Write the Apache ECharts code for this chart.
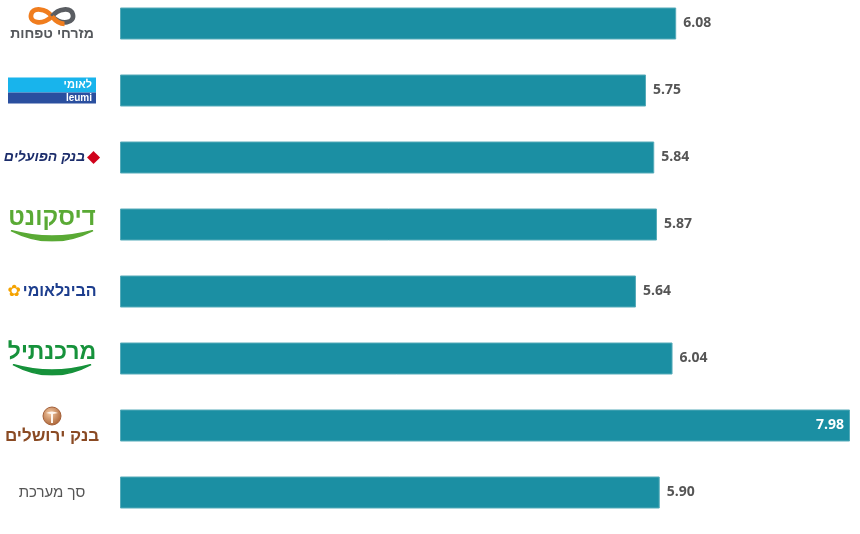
<!DOCTYPE html>
<html>
<head>
<meta charset="utf-8">
<script src="https://cdn.jsdelivr.net/npm/echarts@6/dist/echarts.min.js"></script>
<style>html,body{margin:0;padding:0;background:#fff;overflow:hidden}#c{position:relative;top:-10px;width:860px;height:544px}</style>
</head>
<body>
<div id="c"></div>
<script>
const categories = ['mizrahi', 'leumi', 'hapoalim', 'discount', 'beinleumi', 'mercantile', 'jerusalem', 'total'];
const categoryNames = ['מזרחי טפחות', 'לאומי', 'בנק הפועלים', 'דיסקונט', 'הבינלאומי', 'מרכנתיל', 'בנק ירושלים', 'סך מערכת'];
const values = [6.08, 5.75, 5.84, 5.87, 5.64, 6.04, 7.98, 5.90];

const HEB = '"Liberation Sans", "DejaVu Sans", Arial, sans-serif';

function svgUri(svg) { return 'data:image/svg+xml;charset=utf-8,' + encodeURIComponent(svg); }
const infSvg = svgUri('<svg xmlns="http://www.w3.org/2000/svg" width="48" height="20" viewBox="0 0 48 20">' +
  '<path d="M24,10 C18,2 6,1 4,8 C2,16 14,19 24,10" fill="none" stroke="#f07d1e" stroke-width="4.5"/>' +
  '<path d="M24,10 C30,2 42,1 44,8 C46,16 34,19 24,10" fill="none" stroke="#5a5d62" stroke-width="4.5"/>' +
  '<path d="M24,10 C28,15 32,17 36,17" fill="none" stroke="#f07d1e" stroke-width="4.5"/></svg>');
function arcSvg(c) {
  return svgUri('<svg xmlns="http://www.w3.org/2000/svg" width="84" height="12" viewBox="0 0 84 12">' +
    '<path d="M1,1 Q42,22 83,1 Q42,12 1,1 Z" fill="' + c + '" stroke="' + c + '" stroke-width="1.5"/></svg>');
}
const jerSvg = svgUri('<svg xmlns="http://www.w3.org/2000/svg" width="20" height="20" viewBox="0 0 20 20">' +
  '<defs><radialGradient id="g" cx="40%" cy="35%" r="65%"><stop offset="0" stop-color="#f3c9a4"/><stop offset="1" stop-color="#b06a3c"/></radialGradient></defs>' +
  '<circle cx="10" cy="10" r="9" fill="url(#g)" stroke="#a3603a" stroke-width="1"/>' +
  '<path d="M4,7 Q10,4 16,7 L11,8 L11,17 L9,17 L9,8 Z" fill="#fff6ee"/></svg>');

function fmtLabel(v, i) {
  const name = categoryNames[i];
  switch (categories[i]) {
    case 'mizrahi': return '{inf| }\n{miz|' + name + '}';
    case 'leumi': return '{leu1|' + name + '}\n{leu2|leumi}';
    case 'hapoalim': return '{poa|' + name + '}{dia|◆}';
    case 'discount': return '{dis|' + name + '}\n{disarc| }';
    case 'beinleumi': return '{flw|✿}{bei|' + name + '}';
    case 'mercantile': return '{mer|' + name + '}\n{merarc| }';
    case 'jerusalem': return '{jcir| }\n{jer|' + name + '}';
    default: return '{tot|' + name + '}';
  }
}

const maxV = Math.max(...values);
const chart = echarts.init(document.getElementById('c'));
chart.setOption({
  animation: false,
  grid: { left: 120, right: 10, top: 0, bottom: 8, containLabel: false },
  xAxis: { type: 'value', min: 0, max: 'dataMax', show: false },
  yAxis: {
    type: 'category',
    data: categories,
    inverse: true,
    axisLine: { show: false },
    axisTick: { show: false },
    splitLine: { show: false },
    axisLabel: {
      margin: 68,
      align: 'center',
      formatter: fmtLabel,
      rich: {
        inf: { width: 50, height: 21, lineHeight: 22, align: 'center', backgroundColor: { image: infSvg } },
        miz: { fontSize: 14, color: '#55585c', fontFamily: HEB, fontWeight: 'bold', lineHeight: 14, align: 'center' },
        leu1: { fontSize: 11, color: '#fff', fontFamily: HEB, fontWeight: 'bold', backgroundColor: '#18b4ec', width: 84, height: 15, lineHeight: 15, align: 'right', padding: [0, 4, 0, 0] },
        leu2: { fontSize: 10, color: '#fff', fontFamily: HEB, fontWeight: 'bold', backgroundColor: '#2a4f9f', width: 84, height: 11, lineHeight: 11, align: 'right', padding: [0, 4, 0, 0] },
        poa: { fontSize: 14, color: '#1c2d6b', fontFamily: HEB, fontWeight: 'bold', fontStyle: 'italic' },
        dia: { fontSize: 17, color: '#d0021b', fontFamily: 'DejaVu Sans', padding: [0, 0, 0, 2] },
        dis: { fontSize: 24, color: '#5aaa35', fontFamily: HEB, fontWeight: 'bold', lineHeight: 22, align: 'center' },
        disarc: { width: 84, height: 12, lineHeight: 12, align: 'center', backgroundColor: { image: arcSvg('#5aaa35') } },
        flw: { fontSize: 16, color: '#f5a300', fontFamily: 'DejaVu Sans', padding: [0, 2, 0, 0] },
        bei: { fontSize: 16, color: '#1d3e8e', fontFamily: HEB, fontWeight: 'bold' },
        mer: { fontSize: 23, color: '#16923b', fontFamily: HEB, fontWeight: 'bold', lineHeight: 22, align: 'center' },
        merarc: { width: 80, height: 12, lineHeight: 12, align: 'center', backgroundColor: { image: arcSvg('#16923b') } },
        jcir: { width: 20, height: 20, lineHeight: 22, align: 'center', backgroundColor: { image: jerSvg } },
        jer: { fontSize: 17, color: '#8a4a23', fontFamily: HEB, fontWeight: 'bold', lineHeight: 19, align: 'center' },
        tot: { fontSize: 15, color: '#555', fontFamily: HEB, align: 'center' }
      }
    }
  },
  series: [{
    type: 'bar',
    barWidth: 32,
    data: values.map(v => ({
      value: v,
      label: v === maxV
        ? { position: 'insideRight', color: '#fff', distance: 6 }
        : { position: 'right', color: '#555', distance: 7 }
    })),
    itemStyle: { color: '#1b8fa3', borderColor: '#56abb9', borderWidth: 1 },
    label: {
      show: true,
      fontFamily: '"Open Sans", sans-serif',
      fontWeight: 'bold',
      fontSize: 14,
      formatter: p => p.value.toFixed(2)
    }
  }]
});
</script>
</body>
</html>
